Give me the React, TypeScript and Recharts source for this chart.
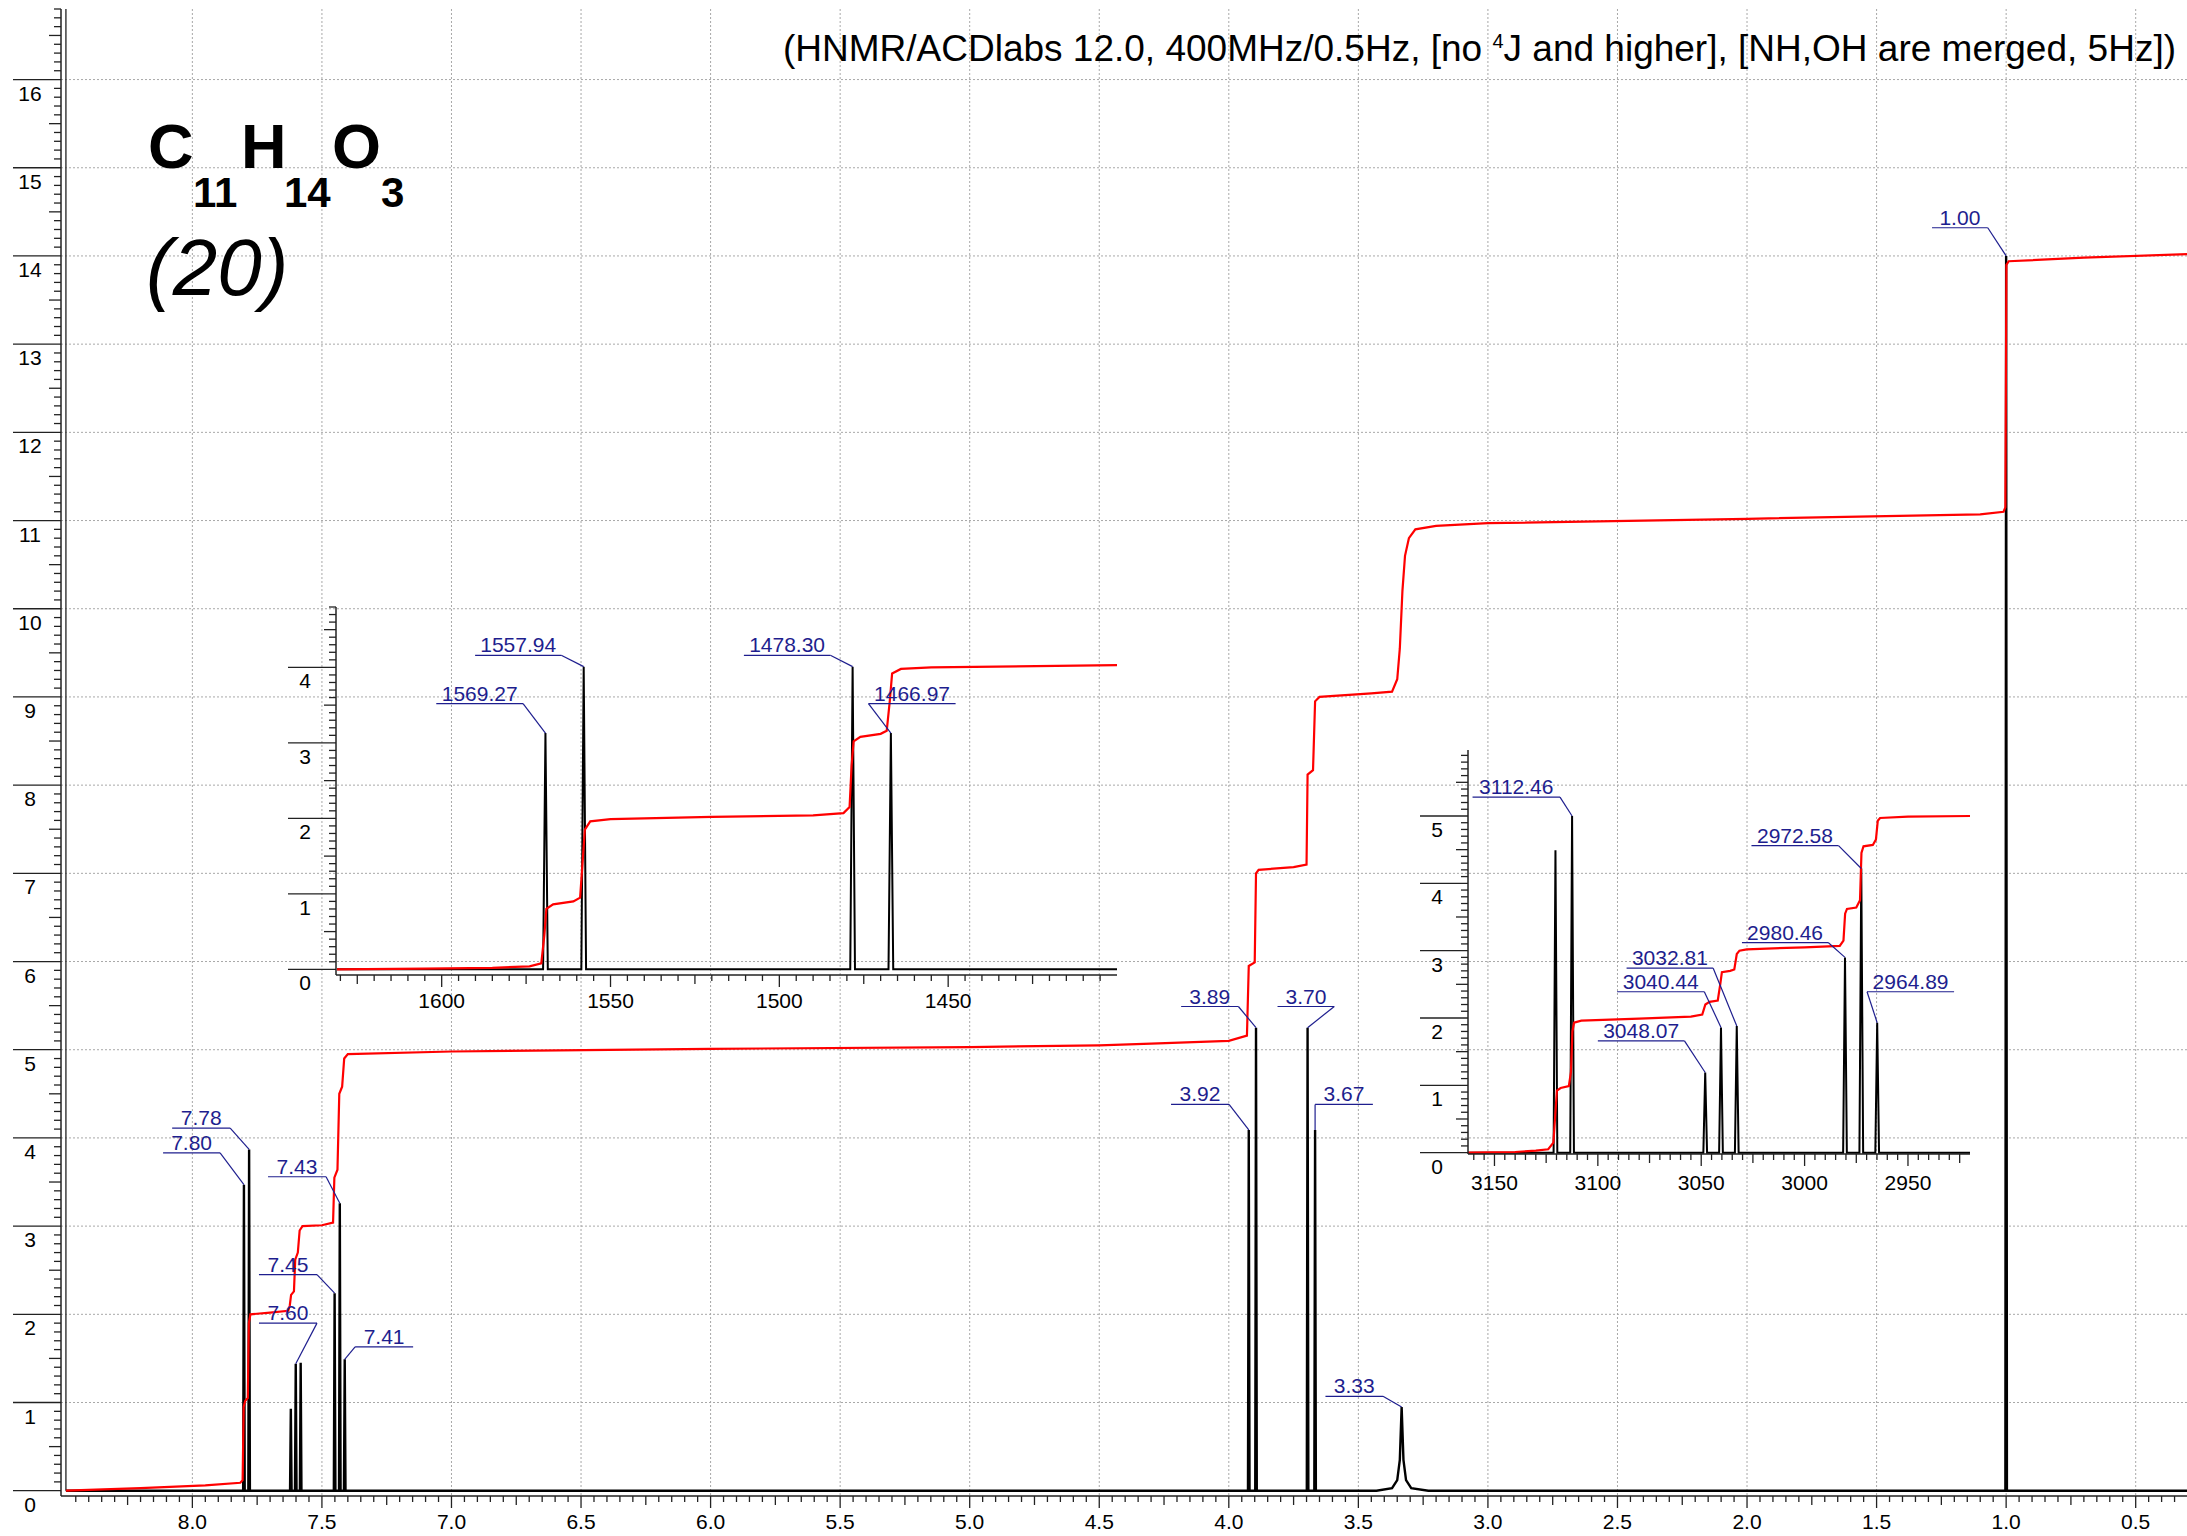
import React from 'react';
import { LineChart, Line, XAxis, YAxis, ReferenceLine, CartesianGrid } from 'recharts';

const FONT = '"Liberation Sans", Arial, Helvetica, sans-serif';
const NAVY = '#1e1e8e';
const INK = '#222';
const GRID = '#a8a8a8';

// ---- main spectrum (ppm) ----
const mainPeakShift = [7.801, 7.781, 7.62, 7.601, 7.582, 7.451, 7.431, 7.412, 3.923, 3.895, 3.696, 3.667, 1.0];
const mainPeakHeight = [3.47, 3.87, 0.93, 1.44, 1.45, 2.24, 3.26, 1.49, 4.09, 5.25, 5.25, 4.09, 14.0];
// the broad NH/OH singlet at 3.33
const broadShift = [3.43, 3.37, 3.35, 3.34, 3.333, 3.326, 3.316, 3.296, 3.23];
const broadHeight = [0, 0.03, 0.12, 0.35, 0.95, 0.35, 0.12, 0.03, 0];

const mainIntegralShift = [8.488, 8.2, 7.95, 7.815, 7.806, 7.802, 7.796, 7.786, 7.782, 7.776, 7.7, 7.63, 7.624, 7.619, 7.608, 7.603, 7.593, 7.586, 7.575, 7.5, 7.457, 7.452, 7.44, 7.433, 7.422, 7.414, 7.4, 7.0, 6.0, 5.0, 4.5, 4.3, 4.0, 3.93, 3.923, 3.9, 3.895, 3.885, 3.75, 3.7, 3.696, 3.675, 3.667, 3.65, 3.45, 3.37, 3.35, 3.34, 3.33, 3.32, 3.305, 3.28, 3.2, 3.0, 2.0, 1.1, 1.01, 1.003, 0.999, 0.99, 0.7, 0.302];
const mainIntegralValue = [0, 0.03, 0.06, 0.09, 0.12, 0.95, 1.02, 1.05, 1.9, 2.0, 2.02, 2.04, 2.1, 2.22, 2.26, 2.62, 2.7, 2.95, 3.0, 3.01, 3.04, 3.55, 3.64, 4.5, 4.58, 4.9, 4.95, 4.98, 5.01, 5.03, 5.05, 5.07, 5.1, 5.16, 5.95, 5.99, 7.0, 7.04, 7.07, 7.1, 8.12, 8.17, 8.95, 9.0, 9.04, 9.06, 9.2, 9.55, 10.2, 10.6, 10.8, 10.9, 10.94, 10.97, 11.02, 11.07, 11.1, 11.15, 13.9, 13.94, 13.98, 14.02];

const mainGridX = [8.0, 7.5, 7.0, 6.5, 6.0, 5.5, 5.0, 4.5, 4.0, 3.5, 3.0, 2.5, 2.0, 1.5, 1.0, 0.5];
const mainGridY = [1, 2, 3, 4, 5, 6, 7, 8, 9, 10, 11, 12, 13, 14, 15, 16];

// ---- inset 1 (Hz) ----
const inset1PeakHz = [1569.27, 1557.94, 1478.3, 1466.97];
const inset1PeakHeight = [3.13, 4.01, 4.01, 3.13];
const inset1IntegralHz = [1631, 1605, 1585, 1574, 1570.5, 1569.6, 1569.0, 1567, 1561, 1559, 1558.3, 1557.6, 1556, 1550, 1520, 1490, 1481, 1479.2, 1478.6, 1478.0, 1476, 1470, 1468.2, 1467.3, 1466.6, 1464, 1455, 1400];
const inset1IntegralValue = [0, 0.01, 0.02, 0.04, 0.08, 0.45, 0.8, 0.86, 0.9, 0.95, 1.4, 1.85, 1.96, 1.99, 2.02, 2.04, 2.07, 2.15, 2.7, 3.02, 3.08, 3.12, 3.16, 3.55, 3.92, 3.98, 4.0, 4.03];

// ---- inset 2 (Hz) ----
const inset2PeakHz = [3120.5, 3112.46, 3048.07, 3040.44, 3032.81, 2980.46, 2972.58, 2964.89];
const inset2PeakHeight = [4.49, 5.0, 1.19, 1.86, 1.88, 2.9, 4.22, 1.93];
const inset2IntegralHz = [3162.8, 3140, 3130, 3124, 3121.5, 3120.5, 3119.8, 3118, 3114, 3113, 3112.3, 3111.5, 3108, 3080, 3055, 3049.5, 3048, 3046, 3042, 3040.8, 3040, 3036, 3034, 3032.8, 3031.5, 3028, 3000, 2983, 2981.2, 2980.4, 2979.5, 2975, 2973.2, 2972.5, 2971.5, 2967, 2965.5, 2964.6, 2963.5, 2950, 2920];
const inset2IntegralValue = [0, 0.01, 0.03, 0.05, 0.15, 0.6, 0.92, 0.96, 0.99, 1.2, 1.8, 1.93, 1.96, 1.99, 2.02, 2.05, 2.2, 2.24, 2.26, 2.5, 2.68, 2.7, 2.72, 2.95, 3.0, 3.02, 3.05, 3.07, 3.15, 3.55, 3.62, 3.64, 3.75, 4.45, 4.55, 4.57, 4.65, 4.93, 4.97, 4.99, 5.0];

type Pt = { x: number; y: number };
type Callout = { text: string; x1: number; x2: number; y: number; px: number; py: number; side: 'L' | 'R' };

// peak callouts: underline from x1 to x2 at height y, leader to the peak top (px, py)
const mainCallouts: Callout[] = [
  { text: '7.78', x1: 8.078, x2: 7.854, y: 4.11, px: 7.781, py: 3.87, side: 'R' },
  { text: '7.80', x1: 8.113, x2: 7.893, y: 3.83, px: 7.801, py: 3.47, side: 'R' },
  { text: '7.43', x1: 7.708, x2: 7.484, y: 3.56, px: 7.431, py: 3.26, side: 'R' },
  { text: '7.45', x1: 7.743, x2: 7.519, y: 2.45, px: 7.451, py: 2.24, side: 'R' },
  { text: '7.60', x1: 7.743, x2: 7.519, y: 1.9, px: 7.601, py: 1.44, side: 'R' },
  { text: '7.41', x1: 7.372, x2: 7.148, y: 1.63, px: 7.412, py: 1.49, side: 'L' },
  { text: '3.92', x1: 4.223, x2: 3.999, y: 4.38, px: 3.923, py: 4.09, side: 'R' },
  { text: '3.89', x1: 4.184, x2: 3.963, y: 5.49, px: 3.895, py: 5.25, side: 'R' },
  { text: '3.70', x1: 3.812, x2: 3.593, y: 5.49, px: 3.696, py: 5.25, side: 'R' },
  { text: '3.67', x1: 3.667, x2: 3.444, y: 4.38, px: 3.667, py: 4.09, side: 'L' },
  { text: '3.33', x1: 3.627, x2: 3.405, y: 1.07, px: 3.333, py: 0.95, side: 'R' },
  { text: '1.00', x1: 1.286, x2: 1.071, y: 14.32, px: 1.0, py: 14.0, side: 'R' },
];

const inset1Callouts: Callout[] = [
  { text: '1569.27', x1: 1601.6, x2: 1575.9, y: 3.52, px: 1569.27, py: 3.13, side: 'R' },
  { text: '1557.94', x1: 1590.1, x2: 1564.6, y: 4.16, px: 1557.94, py: 4.01, side: 'R' },
  { text: '1478.30', x1: 1510.5, x2: 1484.9, y: 4.16, px: 1478.3, py: 4.01, side: 'R' },
  { text: '1466.97', x1: 1473.6, x2: 1447.8, y: 3.52, px: 1466.97, py: 3.13, side: 'L' },
];

const inset2Callouts: Callout[] = [
  { text: '3112.46', x1: 3160.6, x2: 3118.3, y: 5.28, px: 3112.46, py: 5.0, side: 'R' },
  { text: '2972.58', x1: 3025.7, x2: 2983.6, y: 4.56, px: 2972.58, py: 4.22, side: 'R' },
  { text: '2980.46', x1: 3030.3, x2: 2988.6, y: 3.12, px: 2980.46, py: 2.9, side: 'R' },
  { text: '3032.81', x1: 3086.1, x2: 3044.2, y: 2.74, px: 3032.81, py: 1.88, side: 'R' },
  { text: '3040.44', x1: 3090.7, x2: 3048.5, y: 2.39, px: 3040.44, py: 1.86, side: 'R' },
  { text: '3048.07', x1: 3100.0, x2: 3058.1, y: 1.66, px: 3048.07, py: 1.19, side: 'R' },
  { text: '2964.89', x1: 2969.8, x2: 2927.7, y: 2.39, px: 2964.89, py: 1.93, side: 'L' },
];

const zip = (xs: number[], ys: number[]): Pt[] => xs.map((x, i) => ({ x, y: ys[i] }));

// narrow spike for each line, on a flat baseline
function spikes(shift: number[], height: number[], hw: number, from: number, to: number, extra: Pt[] = []): Pt[] {
  const pts: Pt[] = [{ x: from, y: 0 }, { x: to, y: 0 }, ...extra];
  shift.forEach((s, i) => pts.push({ x: s + hw, y: 0 }, { x: s, y: height[i] }, { x: s - hw, y: 0 }));
  return pts.sort((a, b) => b.x - a.x);
}

function steps(from: number, to: number, step: number): number[] {
  const out: number[] = [];
  for (let k = Math.ceil(from / step - 1e-6); k * step <= to + 1e-6; k++) out.push(+(k * step).toFixed(3));
  return out;
}

const isMult = (v: number, m: number) => Math.abs(v / m - Math.round(v / m)) < 1e-6;

const yTick = (p: any) => {
  const v = p.payload.value;
  const major = isMult(v, 1);
  const len = major ? 48 : isMult(v, 0.5) ? 12 : 7;
  return (
    <g>
      <line x1={p.x - len} x2={p.x} y1={p.y} y2={p.y} stroke={INK} strokeWidth={1.3} />
      {major && (
        <text x={p.x - 31} y={p.y + 21} textAnchor="middle" fontSize={21} fontFamily={FONT} fill="#000">
          {v}
        </text>
      )}
    </g>
  );
};

const makeXTick = (major: number, digits: number, labelDy: number) => (p: any) => {
  const v = p.payload.value;
  const isMajor = isMult(v, major);
  const len = isMajor ? 12 : isMult(v, major / 2) ? 9 : 6;
  return (
    <g>
      <line x1={p.x} x2={p.x} y1={p.y} y2={p.y + len} stroke={INK} strokeWidth={1.3} />
      {isMajor && (
        <text x={p.x} y={p.y + labelDy} textAnchor="middle" fontSize={21} fontFamily={FONT} fill="#000">
          {v.toFixed(digits)}
        </text>
      )}
    </g>
  );
};

function callouts(list: Callout[], prefix: string) {
  return list.flatMap((c, i) => [
    <ReferenceLine
      key={`${prefix}u${i}`}
      segment={[{ x: c.x1, y: c.y }, { x: c.x2, y: c.y }]}
      stroke={NAVY}
      strokeWidth={1.2}
      ifOverflow="visible"
      label={{ value: c.text, position: 'top', offset: 3, fill: NAVY, fontSize: 21, fontFamily: FONT }}
    />,
    <ReferenceLine
      key={`${prefix}d${i}`}
      segment={[{ x: c.side === 'L' ? c.x1 : c.x2, y: c.y }, { x: c.px, y: c.py }]}
      stroke={NAVY}
      strokeWidth={1.2}
      ifOverflow="visible"
    />,
  ]);
}

const mainSpectrum = spikes(mainPeakShift, mainPeakHeight, 0.003, 8.488, 0.302, zip(broadShift, broadHeight));
const mainIntegral = zip(mainIntegralShift, mainIntegralValue);
const inset1Spectrum = spikes(inset1PeakHz, inset1PeakHeight, 0.7, 1631, 1400);
const inset1Integral = zip(inset1IntegralHz, inset1IntegralValue);
const inset2Spectrum = spikes(inset2PeakHz, inset2PeakHeight, 0.9, 3162.8, 2920);
const inset2Integral = zip(inset2IntegralHz, inset2IntegralValue);

const axisLine = { stroke: INK, strokeWidth: 1.5 };

function MainChart() {
  return (
    <LineChart width={2187} height={1536} margin={{ top: 9, right: 0, bottom: 0, left: 0 }}>
      <CartesianGrid horizontalValues={mainGridY} verticalValues={mainGridX} stroke={GRID} strokeDasharray="2 2" />
      <XAxis type="number" dataKey="x" domain={[0.302, 8.507]} reversed allowDataOverflow ticks={steps(0.35, 8.45, 0.05)} interval={0}
        tick={makeXTick(0.5, 1, 33)} tickLine={false} tickSize={0} tickMargin={0} height={40} axisLine={axisLine} />
      <YAxis type="number" dataKey="y" domain={[-0.06, 16.8]} allowDataOverflow ticks={steps(0, 16.8, 0.1)} interval={0}
        tick={yTick} tickLine={false} tickSize={0} tickMargin={0} width={61} axisLine={axisLine} />
      <ReferenceLine segment={[{ x: 8.488, y: 0 }, { x: 8.488, y: 16.8 }]} stroke={INK} strokeWidth={1.3} />
      <Line data={mainSpectrum} dataKey="y" type="linear" stroke="#000" strokeWidth={2.4} dot={false} activeDot={false} isAnimationActive={false} />
      <Line data={mainIntegral} dataKey="y" type="linear" stroke="#ff0000" strokeWidth={2.2} dot={false} activeDot={false} isAnimationActive={false} />
      {callouts(mainCallouts, 'm')}
    </LineChart>
  );
}

function Inset1() {
  return (
    <LineChart width={850} height={440} margin={{ top: 17, right: 13, bottom: 0, left: 0 }}>
      <XAxis type="number" dataKey="x" domain={[1400, 1631.3]} reversed allowDataOverflow ticks={steps(1405, 1630, 5)} interval={0}
        tick={makeXTick(50, 0, 33)} tickLine={false} tickSize={0} tickMargin={0} height={55} axisLine={axisLine} />
      <YAxis type="number" dataKey="y" domain={[-0.075, 4.8]} allowDataOverflow ticks={steps(0, 4.8, 0.1)} interval={0}
        tick={yTick} tickLine={false} tickSize={0} tickMargin={0} width={56} axisLine={axisLine} />
      <Line data={inset1Spectrum} dataKey="y" type="linear" stroke="#000" strokeWidth={2} dot={false} activeDot={false} isAnimationActive={false} />
      <Line data={inset1Integral} dataKey="y" type="linear" stroke="#ff0000" strokeWidth={2.2} dot={false} activeDot={false} isAnimationActive={false} />
      {callouts(inset1Callouts, 'a')}
    </LineChart>
  );
}

function Inset2() {
  return (
    <LineChart width={600} height={480} margin={{ top: 20, right: 30, bottom: 0, left: 0 }}>
      <XAxis type="number" dataKey="x" domain={[2920, 3162.8]} reversed allowDataOverflow ticks={steps(2925, 3160, 5)} interval={0}
        tick={makeXTick(50, 0, 36)} tickLine={false} tickSize={0} tickMargin={0} height={56} axisLine={axisLine} />
      <YAxis type="number" dataKey="y" domain={[-0.02, 5.98]} allowDataOverflow ticks={steps(0, 5.9, 0.1)} interval={0}
        tick={yTick} tickLine={false} tickSize={0} tickMargin={0} width={68} axisLine={axisLine} />
      <Line data={inset2Spectrum} dataKey="y" type="linear" stroke="#000" strokeWidth={2} dot={false} activeDot={false} isAnimationActive={false} />
      <Line data={inset2Integral} dataKey="y" type="linear" stroke="#ff0000" strokeWidth={2.2} dot={false} activeDot={false} isAnimationActive={false} />
      {callouts(inset2Callouts, 'b')}
    </LineChart>
  );
}

export default function App() {
  const bold = { fontFamily: FONT, fontWeight: 700, fill: '#000' } as const;
  return (
    <div style={{ position: 'absolute', left: 0, top: 0, width: 2187, height: 1536, background: '#fff', overflow: 'hidden' }}>
      <div style={{ position: 'absolute', left: 0, top: 0 }}>
        <MainChart />
      </div>
      <div style={{ position: 'absolute', left: 280, top: 590 }}>
        <Inset1 />
      </div>
      <div style={{ position: 'absolute', left: 1400, top: 730 }}>
        <Inset2 />
      </div>
      <svg width={2187} height={1536} style={{ position: 'absolute', left: 0, top: 0, pointerEvents: 'none' }}>
        <text x={783} y={61} fontSize={37} fontFamily={FONT} fill="#000">
          (HNMR/ACDlabs 12.0, 400MHz/0.5Hz, [no <tspan fontSize={20} dy={-13}>4</tspan>
          <tspan dy={13}>J and higher], [NH,OH are merged, 5Hz])</tspan>
        </text>
        <text x={148} y={168} fontSize={63} {...bold}>C</text>
        <text x={193} y={207} fontSize={42} {...bold}>11</text>
        <text x={241} y={168} fontSize={63} {...bold}>H</text>
        <text x={284} y={207} fontSize={42} {...bold}>14</text>
        <text x={332} y={168} fontSize={63} {...bold}>O</text>
        <text x={381} y={207} fontSize={42} {...bold}>3</text>
        <text x={146} y={295} fontSize={80} fontStyle="italic" fontFamily={FONT} fill="#000">(20)</text>
      </svg>
    </div>
  );
}
